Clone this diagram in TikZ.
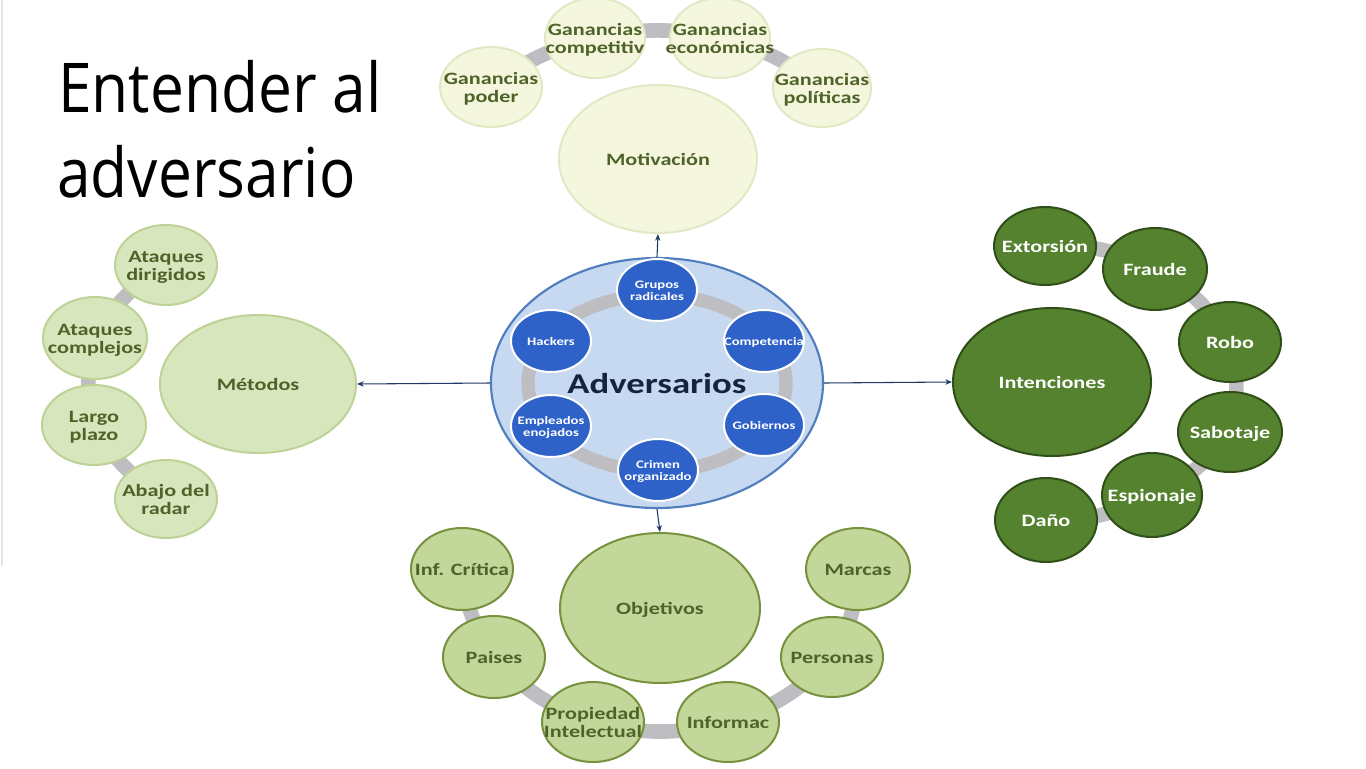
\documentclass[tikz,border=0pt]{standalone}
\usepackage{fontspec}
\usepackage{graphicx}
\setmainfont{Carlito}
\newfontfamily\titlefont{Open Sans}
\usetikzlibrary{shapes.geometric,arrows.meta,backgrounds}
\newcommand\sx[1]{\makebox[0pt]{\raisebox{-0.17em}[\height][\depth]{\scalebox{1.28}[1]{\begin{tabular}{@{}c@{}}#1\end{tabular}}}}}
\definecolor{motfill}{RGB}{244,247,222}
\definecolor{motdraw}{RGB}{226,232,196}
\definecolor{metfill}{RGB}{216,230,190}
\definecolor{metdraw}{RGB}{190,210,150}
\definecolor{objfill}{RGB}{196,215,155}
\definecolor{objdraw}{RGB}{118,146,60}
\definecolor{intfill}{RGB}{84,130,46}
\definecolor{intdraw}{RGB}{48,78,24}
\definecolor{olive}{RGB}{79,98,40}
\definecolor{advfill}{RGB}{198,217,241}
\definecolor{advdraw}{RGB}{80,125,190}
\definecolor{bluefill}{RGB}{46,98,200}
\definecolor{navy}{RGB}{22,34,66}
\definecolor{arrowc}{RGB}{31,56,100}
\definecolor{ringc}{RGB}{190,190,194}
\tikzset{
  sz/.style 2 args={minimum width=#1*1.5pt, minimum height=#2*1.5pt},
  bub/.style={ellipse, inner sep=0pt, line width=1.5pt, font=\fontsize{13}{13.5}\selectfont\bfseries},
  motb/.style={bub, fill=motfill, draw=motdraw, text=olive},
  metb/.style={bub, fill=metfill, draw=metdraw, text=olive},
  objb/.style={bub, fill=objfill, draw=objdraw, text=olive},
  intb/.style={bub, fill=intfill, draw=intdraw, text=white},
  blueb/.style={ellipse, inner sep=0pt, sz={40}{31}, fill=bluefill, draw=white, line width=1.5pt, text=white, font=\fontsize{8.6}{9}\selectfont\bfseries},
  ring/.style={draw=ringc, line width=11pt},
  ringL/.style={ring, bend left=#1},
  ringR/.style={ring, bend right=#1},
  conn/.style={draw=arrowc, line width=0.8pt, -{Stealth[length=5pt,width=4pt]}},
  titletext/.style={anchor=base west, inner sep=0pt, font=\titlefont\fontsize{51.5}{60}\selectfont}
}
\begin{document}
\begin{tikzpicture}[x=0.75pt,y=-0.75pt]
\useasboundingbox (0,0) rectangle (1366,768);
\begin{scope}[on background layer]
\fill[white] (0,0) rectangle (1366,768);
\end{scope}
\draw[gray!20, line width=1.2pt] (2,0) -- (2,566);
% title
\node[titletext] (t1) at (58,112) {\scalebox{0.88}[1]{Entender al}};
\node[titletext] (t2) at (57,197) {\scalebox{0.88}[1]{adversario}};
% center
\node[ellipse, inner sep=0pt, sz={166}{125}, fill=advfill, draw=advdraw, line width=1.6pt] (adv) at (657,383) {};
\draw[ring, line width=10pt] (adv.center) ellipse [x radius=129, y radius=88];
\node[inner sep=0pt, text=navy, font=\fontsize{21.5}{23}\selectfont\bfseries] (advl) at (657,382) {\sx{Adversarios}};
\node[blueb] (gr) at (657,290) {\sx{Grupos\\radicales}};
\node[blueb] (ha) at (551,341) {\sx{Hackers}};
\node[blueb] (co) at (764,341) {\sx{Competencia}};
\node[blueb] (em) at (551,426) {\sx{Empleados\\enojados}};
\node[blueb] (go) at (764,425) {\sx{Gobiernos}};
\node[blueb] (cr) at (658,470) {\sx{Crimen\\organizado}};
% motivation
\node[motb, sz={99}{74}] (mot) at (658,159) {\sx{Motivación}};
\node[motb, sz={51}{40}] (mp) at (491,87) {\sx{Ganancias\\poder}};
\node[motb, sz={50}{40}] (mc) at (595,38) {\sx{Ganancias\\competitiv}};
\node[motb, sz={50}{40}] (me) at (720,38) {\sx{Ganancias\\económicas}};
\node[motb, sz={49}{39}] (mpo) at (822,88) {\sx{Ganancias\\políticas}};
% methods
\node[metb, sz={98}{69}] (met) at (258,384) {\sx{Métodos}};
\node[metb, sz={51}{40}] (ad) at (166,265) {\sx{Ataques\\dirigidos}};
\node[metb, sz={52}{41}] (ac) at (95,338) {\sx{Ataques\\complejos}};
\node[metb, sz={52}{40}] (lp) at (94,425) {\sx{Largo\\plazo}};
\node[metb, sz={51}{39}] (ar) at (166,499) {\sx{Abajo del\\radar}};
% intentions
\node[intb, sz={99}{74}] (int) at (1052,382) {\sx{Intenciones}};
\node[intb, sz={51}{39}] (ex) at (1045,246) {\sx{Extorsión}};
\node[intb, sz={52}{41}] (fr) at (1155,269) {\sx{Fraude}};
\node[intb, sz={51}{40}] (ro) at (1230,342) {\sx{Robo}};
\node[intb, sz={52}{40}] (sa) at (1230,432) {\sx{Sabotaje}};
\node[intb, sz={50}{42}] (es) at (1152,495) {\sx{Espionaje}};
\node[intb, sz={51}{42}] (da) at (1046,520) {\sx{Daño}};
% objectives
\node[objb, sz={100}{75}] (obj) at (660,608) {\sx{Objetivos}};
\node[objb, sz={51}{41}] (ic) at (462,569) {\sx{Inf. Crítica}};
\node[objb, sz={51}{41}] (pa) at (494,657) {\sx{Paises}};
\node[objb, sz={51}{40}] (pi) at (593,722) {\sx{Propiedad\\Intelectual}};
\node[objb, sz={51}{40}] (inf) at (728,722) {\sx{Informac}};
\node[objb, sz={51}{40}] (pe) at (832,657) {\sx{Personas}};
\node[objb, sz={52}{41}] (ma) at (858,569) {\sx{Marcas}};
% ring connectors
\begin{scope}[on background layer]
\draw[ringL=12] (mp.center) to (mc.center);
\draw[ringL=12] (mc.center) to (me.center);
\draw[ringL=12] (me.center) to (mpo.center);
\draw[ringR=14] (ad.center) to (ac.center);
\draw[ringR=14] (ac.center) to (lp.center);
\draw[ringR=14] (lp.center) to (ar.center);
\draw[ringL=14] (ex.center) to (fr.center);
\draw[ringL=14] (fr.center) to (ro.center);
\draw[ringL=14] (ro.center) to (sa.center);
\draw[ringL=14] (sa.center) to (es.center);
\draw[ringL=14] (es.center) to (da.center);
\draw[ringR=14] (ic.center) to (pa.center);
\draw[ringR=14] (pa.center) to (pi.center);
\draw[ringR=14] (pi.center) to (inf.center);
\draw[ringR=14] (inf.center) to (pe.center);
\draw[ringR=14] (pe.center) to (ma.center);
\end{scope}
% arrows
\draw[conn] (adv.north) -- (mot.south);
\draw[conn] (adv.west) -- (met.east);
\draw[conn] (adv.east) -- (int.west);
\draw[conn] (adv.south) -- (obj.north);
\end{tikzpicture}
\end{document}
